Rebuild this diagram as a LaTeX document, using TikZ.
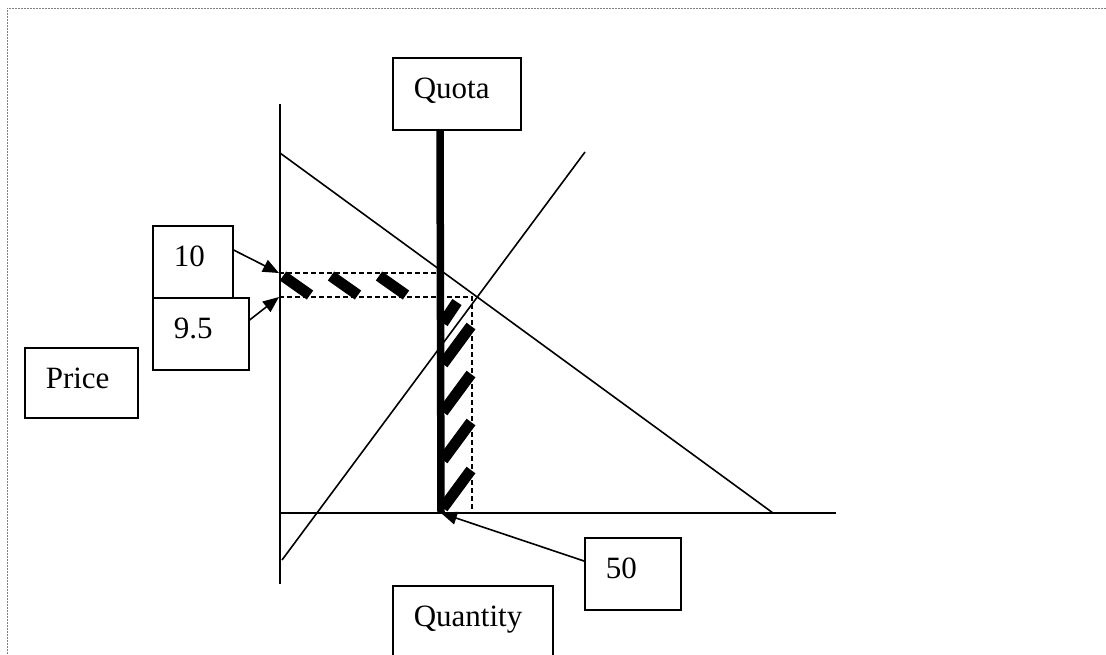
\documentclass[tikz,border=0pt]{standalone}
\usepackage{fontspec}
\setmainfont{Liberation Serif}
\usetikzlibrary{arrows.meta,positioning,calc}

\begin{document}
\begin{tikzpicture}[x=1pt,y=-1pt,
  font=\fontsize{31}{36}\selectfont,
  box/.style={draw,line width=1.6pt,fill=white,anchor=north west,inner xsep=21pt,
    inner ysep=0pt,text height=41pt,text depth=31pt,align=left},
  thin/.style={line width=1.6pt},
  guide/.style={line width=1.2pt,dash pattern=on 5pt off 3pt},
  hatch/.style={line width=11pt},
  ptr/.style={-{Triangle[length=16pt,width=13pt]},line width=1.6pt}]
\useasboundingbox (0,0) rectangle (1106,654);
% page frame
\draw[gray,line width=1pt,dash pattern=on 2pt off 1pt] (1106,8) -- (7,8) -- (7,654);
% axes
\coordinate (O) at (280,513);
\draw[thin] (280,104) -- (280,584);
\draw[thin] (O) -- (836,513);
% demand and supply
\draw[thin] (280,153) -- (773,513);
\draw[thin] (282,560) -- (585,152);
% guide lines
\coordinate (p10) at (279,273);
\coordinate (p95) at (279,297);
\coordinate (q50) at (441,513);
\draw[guide] (p10) -- (440,273);
\draw[guide] (p95) -- (472,297) -- (472,513);
% hatching
\foreach \x in {0,48,96}
  \draw[hatch] (283+\x,276) -- (310+\x,295);
\draw[hatch] (443,323) -- (457,302);
\foreach \y in {322,370,418,466}
  \draw[hatch] (443,\y+42) -- (471,\y+4);
% quota
\node[box,text width=86pt] (quota) at (392,57) {Quota};
\draw[line width=7.5pt] (440,130) -- (q50);
% labels
\node[box,text width=38pt] (ten) at (152,225) {10};
\node[box,text width=54pt] (nine) at (152,297) {9.5};
\node[box,text width=71pt,text depth=29pt] (price) at (24,347) {Price};
\node[box,text width=54pt] (fifty) at (584,537) {50};
\node[box,text width=118pt] (qty) at (392,585) {Quantity};
\draw[ptr] ($(ten.north east)+(0,25)$) -- (p10);
\draw[ptr] ($(nine.north east)+(0,23)$) -- (p95);
\draw[ptr] ($(fifty.north west)+(0,24)$) -- (q50);
\end{tikzpicture}
\end{document}
